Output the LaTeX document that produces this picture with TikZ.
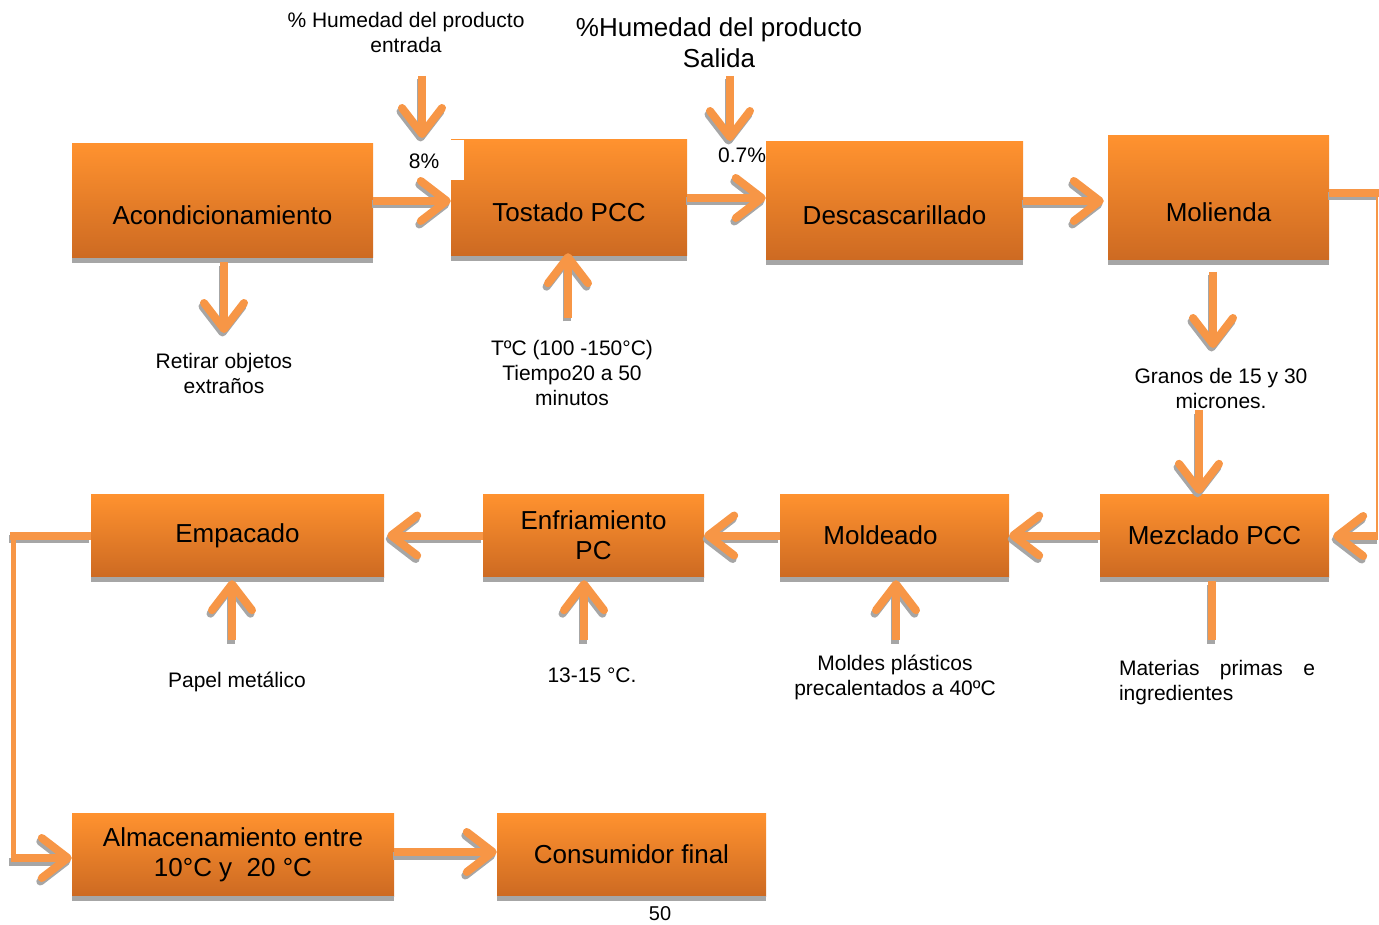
\documentclass[tikz,border=0pt]{standalone}
\usepackage{fontspec}
\setmainfont{Liberation Sans}
\usetikzlibrary{arrows.meta}
\definecolor{boxtop}{RGB}{255,146,47}
\definecolor{boxbot}{RGB}{205,106,34}
\definecolor{flowc}{RGB}{247,150,70}
\definecolor{shadowgray}{RGB}{166,166,166}
% a connector drawn over its own grey drop shadow
\newcommand\castpath[2]{%
  \begin{scope}[transform canvas={shift={(-1.5pt,-3.5pt)}}]
    \draw[#1, draw=shadowgray] #2;
  \end{scope}
  \draw[#1] #2;}
\begin{document}
\begin{tikzpicture}[x=1pt,y=-1pt,
  box/.style={inner sep=0pt, top color=boxtop, bottom color=boxbot,
    font=\fontsize{26}{30}\selectfont, align=center},
  link/.style={draw=flowc, line width=8pt},
  flow/.style={link, -{Straight Barb[length=26pt,width=40pt,round]}},
  lbl/.style={font=\fontsize{21}{25}\selectfont, align=center, inner sep=0pt},
  biglbl/.style={font=\fontsize{26}{31}\selectfont, align=center, inner sep=0pt}
]
\useasboundingbox (0,0) rectangle (1379,925);

% process boxes, upper row
\node[box, minimum width=301pt, text height=81pt, text depth=33pt] (acond) at (222.5,201) {Acondicionamiento};
\node[box, minimum width=236pt, text height=82pt, text depth=34pt] (tost) at (569,198) {Tostado PCC};
\node[box, minimum width=257pt, text height=83pt, text depth=35pt] (desc) at (894.5,201) {Descascarillado};
\node[box, minimum width=221pt, text height=86pt, text depth=38pt] (mol) at (1218.5,198) {Molienda};

% process boxes, middle row
\node[box, minimum width=229pt, minimum height=83pt] (mez) at (1214.5,535.5) {Mezclado PCC};
\node[box, minimum width=229pt, minimum height=83pt] (mold) at (894.5,535.5) {Moldeado\hspace*{28pt}};
\node[box, minimum width=221pt, minimum height=83pt] (enf) at (593.5,535.5) {Enfriamiento\\PC};
\node[box, minimum width=293pt, minimum height=83pt] (emp) at (237.5,535.5) {Empacado};

% process boxes, lower row
\node[box, minimum width=322pt, minimum height=83pt] (alm) at (233,854.5) {Almacenamiento entre\\10°C y\ \ 20 °C};
\node[box, minimum width=269pt, minimum height=83pt] (cons) at (631.5,854.5) {Consumidor final};

% bottom shadows of the boxes
\foreach \n in {acond,tost,desc,mol,mez,mold,enf,emp,alm,cons}
  \fill[shadowgray] (\n.south west) rectangle ([yshift=-5pt]\n.south east);

% notch at the upper left corner of the roasting box
\fill[white] (451,140) rectangle (464,180);

% annotations
\node[lbl] (humin) at (406,32) {\% Humedad del producto\\entrada};
\node[biglbl] (humout) at (719,42.5) {\%Humedad del producto\\Salida};
\node[lbl] (pin) at (424,161) {8\%};
\node[lbl] (pout) at (742,155) {0.7\%};
\node[lbl] (retirar) at (224,373) {Retirar objetos\\extraños};
\node[lbl] (temp) at (572,373) {TºC (100 -150°C)\\Tiempo20 a 50\\minutos};
\node[lbl] (granos) at (1221,388.5) {Granos de 15 y 30\\micrones.};
\node[lbl, align=left] (mat) at (1217,682.5) {\makebox[196pt][s]{Materias primas e}\\ingredientes};
\node[lbl] (moldes) at (895,677.5) {Moldes plásticos\\precalentados a 40ºC};
\node[lbl] (frio) at (592,675) {13-15 °C.};
\node[lbl] (papel) at (237,682) {Papel metálico};
\node[font=\fontsize{20}{24}\selectfont, inner sep=0pt] (pag) at (660,914) {50};

% free ends of the side arrows
\coordinate (hin1) at (422,76);
\coordinate (hin2) at (422,138);
\coordinate (hout1) at (730,76);
\coordinate (hout2) at (730,141);
\coordinate (ra) at (224,333);
\coordinate (tb) at (568,318);
\coordinate (mt) at (1213,272);
\coordinate (mb) at (1213,348);
\coordinate (gt) at (1199,410);
\coordinate (mzb) at (1212,640);
\coordinate (mo) at (896,640);
\coordinate (en) at (584,640);
\coordinate (em) at (232,640);
\coordinate (rc1) at (1377,193);
\coordinate (rc2) at (1377,536);
\coordinate (lc1) at (13,535.5);
\coordinate (lc2) at (13,858);

% main flow
\castpath{flow}{(acond.east) -- (acond.east -| tost.west)}
\castpath{flow}{(tost.east) -- (tost.east -| desc.west)}
\castpath{flow}{(desc.east) -- ([xshift=-4pt]desc.east -| mol.west)}
\castpath{link}{(mol.east |- rc1) -- ([xshift=2pt]rc1)}
\draw[draw=flowc, line width=2.5pt] (rc1) -- (rc2);
\castpath{flow}{([xshift=1pt]rc2) -- ([xshift=4pt]rc2 -| mez.east)}
\castpath{flow}{(mez.west) -- (mez.west -| mold.east)}
\castpath{flow}{(mold.west) -- (mold.west -| enf.east)}
\castpath{flow}{(enf.west) -- ([xshift=3pt]enf.west -| emp.east)}
\castpath{link}{(emp.west) -- ([xshift=-3pt]lc1)}
\draw[draw=flowc, line width=5pt] (lc1) -- (lc2);
\castpath{flow}{([xshift=-2.5pt]lc2) -- (lc2 -| alm.west)}
\castpath{flow}{([yshift=2.5pt]alm.east) -- ([yshift=2.5pt]alm.east -| cons.west)}

% side inputs and outputs
\castpath{flow}{(hin1) -- (hin2)}
\castpath{flow}{(hout1) -- (hout2)}
\castpath{flow}{([yshift=-4pt]acond.south -| ra) -- (ra)}
\castpath{flow}{(tb) -- ([yshift=3pt]tb |- tost.south)}
\castpath{flow}{(mt) -- (mb)}
\castpath{flow}{(gt) -- (gt |- mez.north)}
\castpath{link}{([yshift=-4pt]mez.south -| mzb) -- (mzb)}
\castpath{flow}{(mo) -- ([yshift=-3pt]mo |- mold.south)}
\castpath{flow}{(en) -- ([yshift=-3pt]en |- enf.south)}
\castpath{flow}{(em) -- ([yshift=-3pt]em |- emp.south)}
\end{tikzpicture}
\end{document}
